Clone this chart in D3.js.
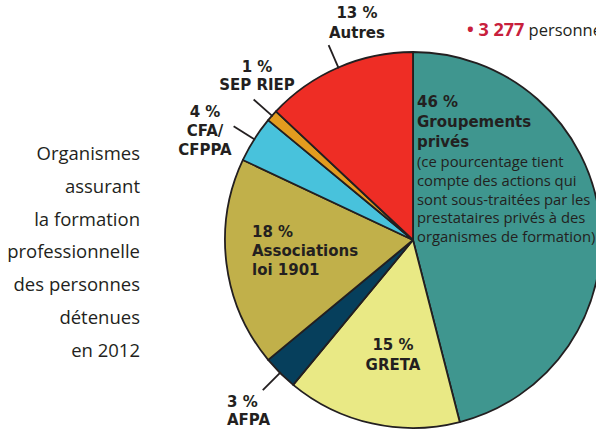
<!DOCTYPE html>
<html>
<head>
<meta charset="utf-8">
<script src="https://cdn.jsdelivr.net/npm/d3@7"></script>
<style>
  body { margin: 0; background: #fff; }
  svg { display: block; }
  .bold { font-family: "DejaVu Sans", sans-serif; font-weight: bold; font-size: 15px; fill: #231f20; }
  .reg { font-family: "Open Sans", sans-serif; font-size: 14.8px; fill: #231f20; }
  .title { font-family: "Open Sans", sans-serif; font-size: 18.5px; fill: #231f20; }
</style>
</head>
<body>
<div id="chart"></div>
<script>
const width = 596;
const height = 430;

// data, clockwise from 12 o'clock
const categories = ['Groupements privés', 'GRETA', 'AFPA', 'Associations loi 1901', 'CFA/CFPPA', 'SEP RIEP', 'Autres'];
const shares = [46, 15, 3, 18, 4, 1, 13];
const slice_colors = ['#3f968f', '#e9e985', '#063f5c', '#c1b04a', '#48c2dc', '#e29c1f', '#ee2d25'];

const title_lines = ['Organismes', 'assurant', 'la formation', 'professionnelle', 'des personnes', 'détenues', 'en 2012'];
const note_lines = ['(ce pourcentage tient', 'compte des actions qui', 'sont sous-traitées par les', 'prestataires privés à des', 'organismes de formation)'];

// label text per slice (percent + name lines)
const label_lines = [
    ['46 %', 'Groupements', 'privés'],
    ['15 %', 'GRETA'],
    ['3 %', 'AFPA'],
    ['18 %', 'Associations', 'loi 1901'],
    ['4 %', 'CFA/', 'CFPPA'],
    ['1 %', 'SEP RIEP'],
    ['13 %', 'Autres']
];

// where each label goes; leader = draw a line from the rim outward
const label_layout = [
    { x: 417, y: 107, anchor: 'start', leader: false, lh: 20 },
    { x: 393, y: 350, anchor: 'middle', leader: false, lh: 20 },
    { x: 227, y: 407, anchor: 'start', leader: true, lh: 18 },
    { x: 252, y: 237, anchor: 'start', leader: false, lh: 19 },
    { x: 205, y: 117, anchor: 'middle', leader: true, lh: 19 },
    { x: 257, y: 72, anchor: 'middle', leader: true, lh: 18 },
    { x: 357, y: 18, anchor: 'middle', leader: true, lh: 20 }
];

const cx = 413, cy = 240, radius = 188;

const svg = d3.select('#chart')
    .append('svg')
    .attr('width', width)
    .attr('height', height);

const pie = d3.pie().sort(null).value(d => d);
const arcs = pie(shares);
const arc = d3.arc().innerRadius(0).outerRadius(radius);

const g = svg.append('g').attr('transform', `translate(${cx},${cy})`);

g.selectAll('path')
    .data(arcs)
    .enter()
    .append('path')
    .attr('d', arc)
    .attr('fill', (d, i) => slice_colors[i])
    .attr('stroke', '#231f20')
    .attr('stroke-width', 1.8)
    .attr('stroke-linejoin', 'round');

// leader lines, at the middle angle of small slices
arcs.forEach(function (a, i) {
    if (!label_layout[i].leader) return;
    let mid = (a.startAngle + a.endAngle) / 2;
    let r0 = radius - 1, r1 = radius * 1.13;
    g.append('line')
        .attr('x1', Math.sin(mid) * r0)
        .attr('y1', -Math.cos(mid) * r0)
        .attr('x2', Math.sin(mid) * r1)
        .attr('y2', -Math.cos(mid) * r1)
        .attr('stroke', '#231f20')
        .attr('stroke-width', 1.8);
});

// slice labels
label_lines.forEach(function (lines, i) {
    let lay = label_layout[i];
    let t = svg.append('text')
        .attr('class', 'bold')
        .attr('text-anchor', lay.anchor);
    lines.forEach(function (s, j) {
        t.append('tspan')
            .attr('x', lay.x)
            .attr('y', lay.y + j * lay.lh)
            .text(s);
    });
});

// note under "Groupements privés"
note_lines.forEach(function (s, j) {
    svg.append('text')
        .attr('class', 'reg')
        .attr('x', 417)
        .attr('y', 167 + j * 18.8)
        .text(s);
});

// left title, right aligned
title_lines.forEach(function (s, j) {
    svg.append('text')
        .attr('class', 'title')
        .attr('text-anchor', 'end')
        .attr('x', 140)
        .attr('y', 160 + j * 32.8)
        .text(s);
});

// header fragment at top right (cut by the right edge, as in the source)
let head = svg.append('text')
    .attr('x', 467)
    .attr('y', 36)
    .style('font-family', '"Open Sans", sans-serif')
    .style('font-size', '16.5px');
head.append('tspan')
    .attr('fill', '#c8203c')
    .style('font-weight', 'bold')
    .style('font-size', '18px')
    .text('• 3 277');
head.append('tspan')
    .attr('fill', '#231f20')
    .text(' personnes');
</script>
</body>
</html>
